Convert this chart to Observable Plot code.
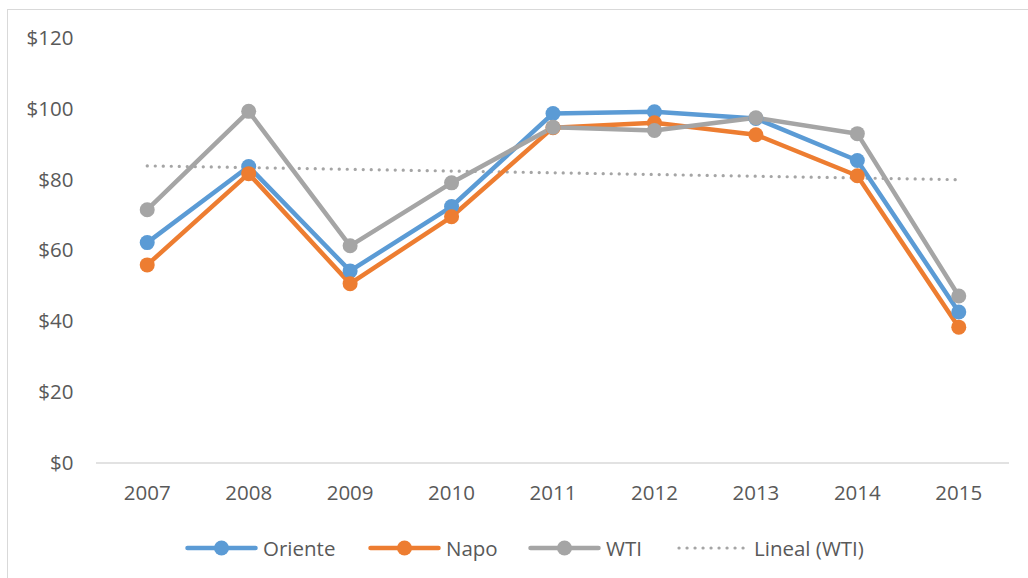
<!DOCTYPE html>
<html>
<head>
<meta charset="utf-8">
<script src="https://cdn.jsdelivr.net/npm/d3@7"></script>
<script src="https://cdn.jsdelivr.net/npm/@observablehq/plot@0.6"></script>
<style>
  html, body { margin: 0; padding: 0; background: #fff; }
  #wrap { position: relative; width: 1028px; height: 578px; overflow: hidden; font-family: "Open Sans", sans-serif; }
  #frame { position: absolute; left: 7px; top: 9px; width: 1030px; height: 580px; border: 1.5px solid #d9d9d9; box-sizing: border-box; }
  #chart { position: absolute; left: 0; top: 0; }
  #legend { position: absolute; left: 0; top: 533px; width: 1028px; height: 30px; }
  .item { position: absolute; top: 0; height: 30px; display: flex; align-items: center; font-size: 20.5px; color: #595959; }
  .item svg { margin-right: 5px; }
</style>
</head>
<body>
<div id="wrap">
  <div id="frame"></div>
  <div id="chart"></div>
  <div id="legend"></div>
</div>
<script>
const years   = [2007, 2008, 2009, 2010, 2011, 2012, 2013, 2014, 2015];
const oriente = [62.3, 83.8, 54.3, 72.5, 98.8, 99.3, 97.4, 85.5, 42.7];
const napo    = [56.0, 81.8, 50.7, 69.6, 94.8, 96.2, 92.8, 81.2, 38.4];
const wti     = [71.6, 99.4, 61.4, 79.2, 94.9, 94.0, 97.6, 93.1, 47.2];
const seriesNames = ["Oriente", "Napo", "WTI"];
const trendName = "Lineal (WTI)";
const yTicks = [0, 20, 40, 60, 80, 100, 120];
const colors = {Oriente: "#5B9BD5", Napo: "#ED7D31", WTI: "#A5A5A5"};

const seriesVals = {Oriente: oriente, Napo: napo, WTI: wti};
const rows = seriesNames.flatMap(s => years.map((y, i) => ({series: s, year: y, value: seriesVals[s][i]})));
const wtiRows = rows.filter(d => d.series === "WTI");

const W = 1028, H = 520;
const plot = Plot.plot({
  width: W,
  height: H,
  marginLeft: 96,
  marginRight: 19,
  marginTop: 38,
  marginBottom: H - 462.5,
  style: {fontFamily: "'Open Sans', sans-serif", fontSize: "20.5px", color: "#595959", background: "transparent"},
  x: {type: "linear", domain: [2006.5, 2015.5], ticks: years, tickFormat: d => String(d), tickSize: 0, tickPadding: 22, label: null},
  y: {domain: [0, 120], ticks: yTicks, tickFormat: d => "$" + d, tickSize: 0, tickPadding: 23, label: null},
  marks: [
    Plot.ruleY([0], {stroke: "#d9d9d9", strokeWidth: 1.5}),
    Plot.linearRegressionY(wtiRows, {x: "year", y: "value", ci: 0, stroke: "#A5A5A5", strokeWidth: 3.2, strokeDasharray: "0.1 7.9", strokeLinecap: "round"}),
    ...seriesNames.map(s => Plot.line(rows.filter(d => d.series === s), {x: "year", y: "value", stroke: colors[s], strokeWidth: 4.5, strokeLinejoin: "round", strokeLinecap: "round"})),
    ...seriesNames.map(s => Plot.dot(rows.filter(d => d.series === s), {x: "year", y: "value", fill: colors[s], r: 7.5}))
  ]
});
document.getElementById("chart").appendChild(plot);

// Legend
const legend = document.getElementById("legend");
const lefts = [185, 368, 528, 677];
seriesNames.forEach((s, i) => {
  const el = document.createElement("div");
  el.className = "item";
  el.style.left = lefts[i] + "px";
  el.innerHTML = `<svg width="73" height="16"><line x1="2.5" y1="8" x2="70.5" y2="8" stroke="${colors[s]}" stroke-width="4.5" stroke-linecap="round"/><circle cx="36.5" cy="8" r="7.5" fill="${colors[s]}"/></svg>${s}`;
  legend.appendChild(el);
});
{
  const el = document.createElement("div");
  el.className = "item";
  el.style.left = lefts[3] + "px";
  el.innerHTML = `<svg width="72" height="16"><line x1="2" y1="8" x2="68" y2="8" stroke="#A5A5A5" stroke-width="3.2" stroke-dasharray="0.1 7.9" stroke-linecap="round"/></svg>${trendName}`;
  legend.appendChild(el);
}
</script>
</body>
</html>
